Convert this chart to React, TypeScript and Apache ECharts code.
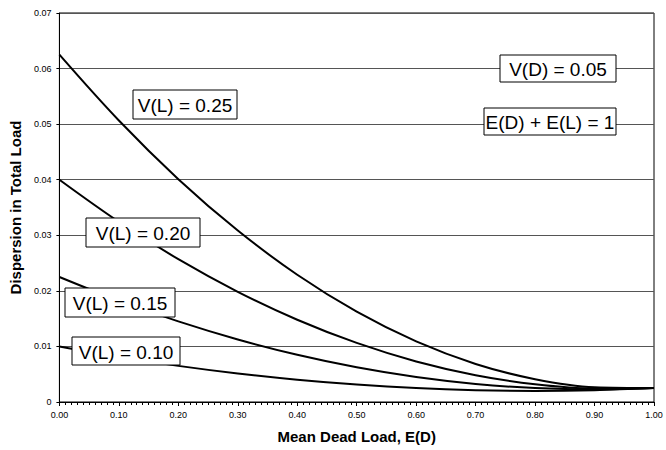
import React, { useEffect, useRef } from "react";
import * as echarts from "echarts";

const xValues = [0, 0.1, 0.2, 0.3, 0.4, 0.5, 0.6, 0.7, 0.8, 0.9, 1.0];
const vl025 = [0.0625, 0.05065, 0.0401, 0.03085, 0.0229, 0.01625, 0.0109, 0.00685, 0.0041, 0.00265, 0.0025];
const vl020 = [0.04, 0.03243, 0.0257, 0.01983, 0.0148, 0.01063, 0.0073, 0.00483, 0.0032, 0.00243, 0.0025];
const vl015 = [0.0225, 0.01825, 0.0145, 0.01125, 0.0085, 0.00625, 0.0045, 0.00325, 0.0025, 0.00225, 0.0025];
const vl010 = [0.01, 0.00813, 0.0065, 0.00513, 0.004, 0.00313, 0.0025, 0.00213, 0.002, 0.00213, 0.0025];
const seriesNames = ["V(L) = 0.25", "V(L) = 0.20", "V(L) = 0.15", "V(L) = 0.10"];
const seriesData = [vl025, vl020, vl015, vl010];
const notes = ["V(D) = 0.05", "E(D) + E(L) = 1"];

const FONT = "Arial, 'Liberation Sans', sans-serif";

function box(text: string, x: number, y: number, w: number, h: number) {
  return {
    type: "group",
    x,
    y,
    children: [
      {
        type: "rect",
        z: 100,
        shape: { x: 0, y: 0, width: w, height: h },
        style: { fill: "#fff", stroke: "#000", lineWidth: 1 },
      },
      {
        type: "text",
        z: 101,
        x: w / 2,
        y: h / 2 + 1,
        style: { text, fill: "#000", font: `19px ${FONT}`, align: "center", verticalAlign: "middle" },
      },
    ],
  };
}

export default function App() {
  const ref = useRef<HTMLDivElement>(null);
  useEffect(() => {
    if (!ref.current) return;
    const chart = echarts.init(ref.current, null, { renderer: "svg" });
    chart.setOption({
      animation: false,
      backgroundColor: "#fff",
      grid: { left: 58, top: 13, right: 12, bottom: 48, show: true, borderColor: "#000", borderWidth: 1 },
      xAxis: {
        type: "value",
        min: 0,
        max: 1,
        interval: 0.1,
        name: "Mean Dead Load, E(D)",
        nameLocation: "middle",
        nameGap: 27,
        nameTextStyle: { fontFamily: FONT, fontWeight: "bold", fontSize: 15, color: "#000" },
        axisLine: { lineStyle: { color: "#000", width: 1 } },
        axisTick: { show: true, length: 4, lineStyle: { color: "#000" } },
        minorTick: { show: true, splitNumber: 10, length: 3, lineStyle: { color: "#000" } },
        axisLabel: { formatter: (v: number) => v.toFixed(2), fontFamily: FONT, fontSize: 9, color: "#000", margin: 8 },
        splitLine: { show: false },
      },
      yAxis: {
        type: "value",
        min: 0,
        max: 0.07,
        interval: 0.01,
        name: "Dispersion in Total Load",
        nameLocation: "middle",
        nameGap: 36,
        nameTextStyle: { fontFamily: FONT, fontWeight: "bold", fontSize: 15, color: "#000" },
        axisLine: { show: true, lineStyle: { color: "#000", width: 1 } },
        axisTick: { show: true, length: 3, lineStyle: { color: "#000" } },
        axisLabel: {
          formatter: (v: number) => (v === 0 ? "0" : v.toFixed(2)),
          fontFamily: FONT,
          fontSize: 9,
          color: "#000",
          margin: 8,
        },
        splitLine: { show: true, lineStyle: { color: "#555", width: 1 } },
      },
      series: seriesData.map((d, i) => ({
        type: "line",
        name: seriesNames[i],
        data: d.map((v, j) => [xValues[j], v]),
        smooth: 0.35,
        showSymbol: false,
        lineStyle: { color: "#000", width: 2 },
        z: 5,
      })),
      graphic: [
        box(seriesNames[0], 133, 90, 104, 29),
        box(seriesNames[1], 86, 218, 114, 29),
        box(seriesNames[2], 65, 288, 110, 29),
        box(seriesNames[3], 72, 337, 108, 28),
        box(notes[0], 500, 55, 116, 27),
        box(notes[1], 484, 108, 132, 27),
      ],
    });
    return () => chart.dispose();
  }, []);
  return <div ref={ref} style={{ width: 666, height: 450, position: "absolute", left: 0, top: 0 }} />;
}
